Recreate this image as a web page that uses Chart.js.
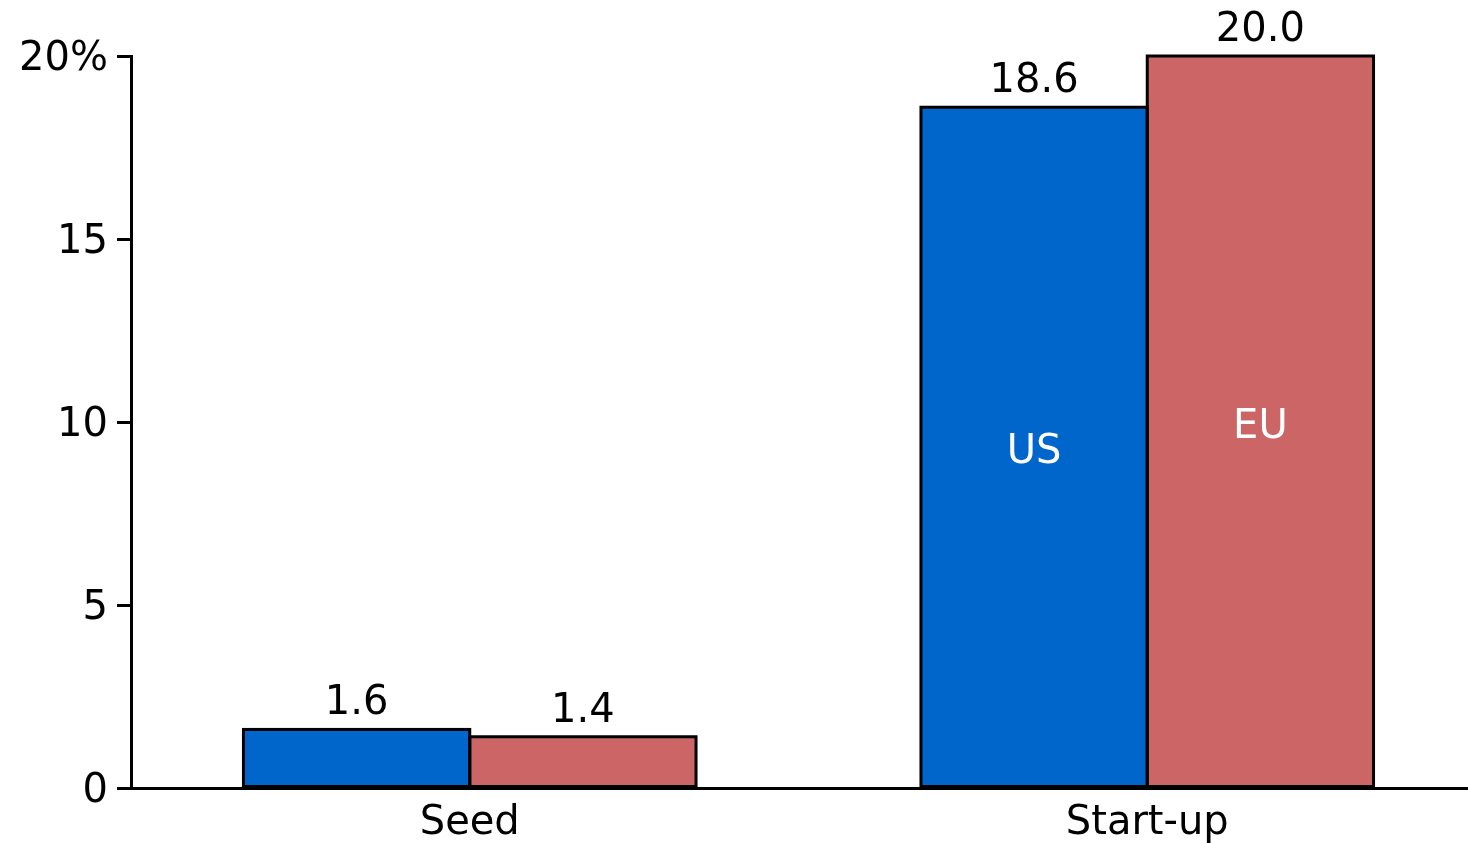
<!DOCTYPE html>
<html>
<head>
<meta charset="utf-8">
<script src="https://cdn.jsdelivr.net/npm/chart.js@4/dist/chart.umd.min.js"></script>
<style>
  html, body { margin: 0; padding: 0; background: #fff; overflow: hidden; }
  #wrap { position: relative; width: 1490px; height: 843px; }
</style>
</head>
<body>
<div id="wrap"><canvas id="c"></canvas></div>
<script>
// Share of companies by funding stage, US vs EU
const categories = ['Seed', 'Start-up'];
const seriesNames = ['US', 'EU'];
const usValues = [1.6, 18.6];
const euValues = [1.4, 20.0];
const yTicks = [0, 5, 10, 15, 20];

const FONT = 'DejaVu Sans, Verdana, sans-serif';
const FONT_SIZE = 40;

// Outline each bar on its edges, then put value labels above the bars
// and the series name inside the Start-up bars
const barLabels = {
  id: 'barLabels',
  afterDatasetsDraw(chart) {
    const ctx = chart.ctx;
    ctx.save();
    ctx.strokeStyle = '#000';
    ctx.lineWidth = 3;
    ctx.lineJoin = 'miter';
    chart.data.datasets.forEach((ds, di) => {
      chart.getDatasetMeta(di).data.forEach(bar => {
        const w = bar.width;
        ctx.strokeRect(bar.x - w / 2, bar.y, w, bar.base - bar.y);
      });
    });
    ctx.font = FONT_SIZE + 'px ' + FONT;
    ctx.textAlign = 'center';
    chart.data.datasets.forEach((ds, di) => {
      const meta = chart.getDatasetMeta(di);
      meta.data.forEach((bar, i) => {
        ctx.fillStyle = '#000';
        ctx.textBaseline = 'alphabetic';
        ctx.fillText(ds.data[i].toFixed(1), bar.x, bar.y - 15);
        if (i === 1) {
          ctx.fillStyle = '#fff';
          ctx.textBaseline = 'middle';
          ctx.fillText(ds.label, bar.x, (bar.y + bar.base) / 2 + 6);
        }
      });
    });
    ctx.restore();
  }
};

new Chart(document.getElementById('c'), {
  type: 'bar',
  data: {
    labels: categories,
    datasets: [
      { label: seriesNames[0], data: usValues, backgroundColor: '#0066CC', borderWidth: 0 },
      { label: seriesNames[1], data: euValues, backgroundColor: '#CC6666', borderWidth: 0 }
    ]
  },
  options: {
    responsive: true,
    maintainAspectRatio: false,
    animation: false,
    layout: { padding: { top: 56, right: 4, left: 0, bottom: 0 } },
    datasets: { bar: { categoryPercentage: 0.668, barPercentage: 1.0 } },
    plugins: { legend: { display: false }, tooltip: { enabled: false } },
    scales: {
      x: {
        grid: { display: false },
        border: { display: true, color: '#000', width: 3, z: 1 },
        ticks: { color: '#000', font: { family: FONT, size: FONT_SIZE }, padding: 4 },
        afterFit(scale) { scale.height = 55; }
      },
      y: {
        min: yTicks[0],
        max: yTicks[yTicks.length - 1],
        afterBuildTicks(scale) { scale.ticks = yTicks.map(v => ({ value: v })); },
        grid: { drawOnChartArea: false, drawTicks: true, tickLength: 14, color: '#000', lineWidth: 3 },
        border: { display: true, color: '#000', width: 3 },
        ticks: {
          color: '#000', padding: 9, labelOffset: 4,
          font: { family: FONT, size: FONT_SIZE },
          callback: v => v === 20 ? '20%' : String(v)
        },
        afterFit(scale) { scale.width = 131; }
      }
    }
  },
  plugins: [barLabels]
});
</script>
</body>
</html>
